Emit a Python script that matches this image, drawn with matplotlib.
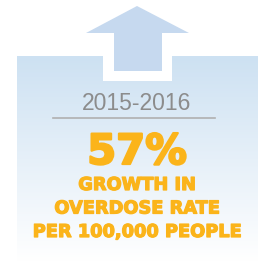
import numpy as np
import matplotlib.pyplot as plt
import matplotlib.patheffects as pe
from matplotlib.patches import Polygon

# infographic content
period = "2015-2016"
growth_pct = 57
caption_lines = ["GROWTH IN", "OVERDOSE RATE", "PER 100,000 PEOPLE"]

orange = "#fbb41a"
grey = "#8c8c8c"
arrow_blue = "#c6d9ef"

fig = plt.figure(figsize=(2.62, 2.62), dpi=100)
ax = fig.add_axes([0, 0, 1, 1])
ax.set_xlim(0, 262)
ax.set_ylim(262, 0)
ax.axis("off")

# gradient panel (light blue at top fading to white)
top = np.array([205, 225, 242]) / 255
bot = np.array([255, 255, 255]) / 255
t = np.linspace(0, 1, 200)[:, None]
grad = (top * (1 - t) + bot * t)[:, None, :]
grad = np.repeat(grad, 2, axis=1)
ax.imshow(grad, extent=[17, 258, 262, 56], aspect="auto", zorder=0)

# white notch behind arrow shaft
ax.add_patch(Polygon([[103, 56], [172, 56], [172, 81], [103, 81]],
                     closed=True, fc="white", ec="none", zorder=1))
# up arrow
arrow = [[137, 6], [189, 33], [162, 33], [162, 71], [114, 71], [114, 33], [86, 33]]
ax.add_patch(Polygon(arrow, closed=True, fc=arrow_blue, ec="none", zorder=2))

ax.text(137, 104, period, ha="center", va="center", fontsize=16.5,
        color=grey, family="Liberation Sans")
ax.plot([53, 215], [118, 118], color="#b0b0b0", lw=1.2)

heavy = [pe.withStroke(linewidth=1.6, foreground=orange)]
ax.text(137, 152, f"{growth_pct}%", ha="center", va="center", fontsize=30,
        color=orange, family="DejaVu Sans", fontweight="bold", path_effects=heavy)

thick = [pe.withStroke(linewidth=0.9, foreground=orange)]
for i, line in enumerate(caption_lines):
    ax.text(137, 185 + i * 23.5, line, ha="center", va="center", fontsize=12.8,
            color=orange, family="DejaVu Sans", fontweight="bold", path_effects=thick)

fig.savefig("out.png", dpi=100)
